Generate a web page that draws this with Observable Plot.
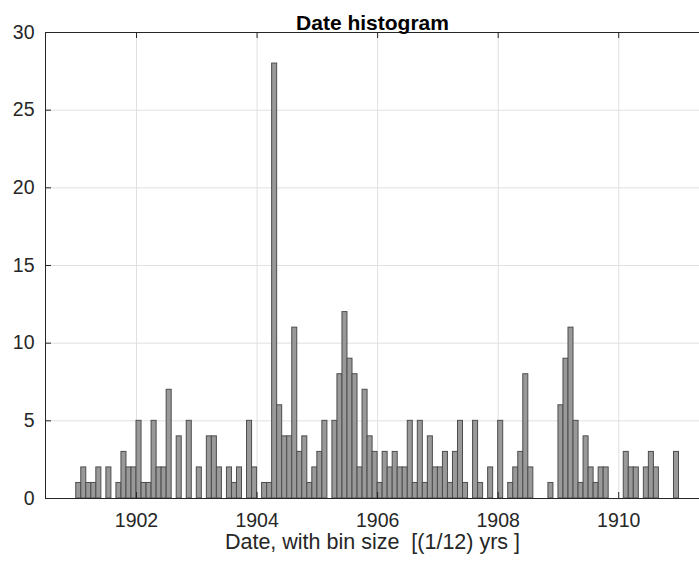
<!DOCTYPE html>
<html>
<head>
<meta charset="utf-8">
<script src="https://cdn.jsdelivr.net/npm/d3@7"></script>
<script src="https://cdn.jsdelivr.net/npm/@observablehq/plot@0.6"></script>
<style>
  html, body { margin: 0; padding: 0; background: #fff; }
  svg text { white-space: pre; }
</style>
</head>
<body>
<div id="chart"></div>
<script>
// Monthly counts (Jan..Dec) for each year, bin width 1/12 yr
const years = [1901, 1902, 1903, 1904, 1905, 1906, 1907, 1908, 1909, 1910];
const counts1901 = [1, 2, 1, 1, 2, 0, 2, 0, 1, 3, 2, 2];
const counts1902 = [5, 1, 1, 5, 2, 2, 7, 0, 4, 0, 5, 0];
const counts1903 = [2, 0, 4, 4, 2, 0, 2, 1, 2, 0, 5, 2];
const counts1904 = [0, 1, 1, 28, 6, 4, 4, 11, 3, 4, 1, 2];
const counts1905 = [3, 5, 0, 5, 8, 12, 9, 8, 2, 7, 4, 3];
const counts1906 = [1, 3, 2, 3, 2, 2, 5, 1, 5, 1, 4, 2];
const counts1907 = [2, 3, 1, 3, 5, 1, 0, 5, 1, 0, 2, 0];
const counts1908 = [5, 0, 1, 2, 3, 8, 2, 0, 0, 0, 1, 0];
const counts1909 = [6, 9, 11, 5, 1, 4, 2, 1, 2, 2, 0, 0];
const counts1910 = [0, 3, 2, 2, 0, 2, 3, 2, 0, 0, 0, 3];
const monthlyCounts = [counts1901, counts1902, counts1903, counts1904, counts1905,
                       counts1906, counts1907, counts1908, counts1909, counts1910];

const xTicks = [1902, 1904, 1906, 1908, 1910];
const yTicks = [0, 5, 10, 15, 20, 25, 30];
const xDomain = [1900.49, 1911.34];
const yDomain = [0, 30];

const titleText = "Date histogram";
const xLabelText = "Date, with bin size  [(1/12) yrs ]";

// one rectangle per monthly bin
const bins = [];
years.forEach((yr, i) => {
  monthlyCounts[i].forEach((c, m) => {
    bins.push({x1: yr + m / 12, x2: yr + (m + 1) / 12, count: c});
  });
});

const width = 699, height = 562;
const marginLeft = 45, marginRight = 0, marginTop = 32, marginBottom = 64;
const plotW = width - marginLeft - marginRight;
const plotH = height - marginTop - marginBottom;
const axisColor = "#262626";
const tickLen = 6;

const chart = Plot.plot({
  width, height, marginLeft, marginRight, marginTop, marginBottom,
  style: {fontFamily: "'Liberation Sans', Arial, Helvetica, sans-serif", background: "#fff", color: axisColor},
  x: {domain: xDomain, label: null},
  y: {domain: yDomain, label: null},
  marks: [
    Plot.gridX(xTicks, {stroke: "#e0e0e0", strokeOpacity: 1}),
    Plot.gridY(yTicks, {stroke: "#e0e0e0", strokeOpacity: 1}),
    Plot.rectY(bins, {x1: "x1", x2: "x2", y: "count", fill: "#999999", stroke: "#4d4d4d", strokeWidth: 1}),
    // box lines (right side runs past the page edge)
    Plot.ruleX([xDomain[0]], {stroke: axisColor}),
    Plot.ruleY([yDomain[0], yDomain[1]], {stroke: axisColor}),
    // inward tick marks
    Plot.tickX(xTicks, {x: d => d, insetTop: plotH - tickLen, stroke: axisColor}),
    Plot.tickX(xTicks, {x: d => d, insetBottom: plotH - tickLen, stroke: axisColor}),
    Plot.tickY(yTicks, {y: d => d, insetRight: plotW - tickLen, stroke: axisColor}),
    Plot.axisX(xTicks, {tickSize: 0, tickPadding: 15, fontSize: 19.5, fill: axisColor, tickFormat: d => String(d), label: null}),
    Plot.axisY(yTicks, {tickSize: 0, tickPadding: 11, fontSize: 19.5, fill: axisColor, label: null}),
    Plot.text([titleText], {frameAnchor: "top", dy: -17, fontSize: 21, fontWeight: "bold", fill: "#000"}),
    Plot.text([xLabelText], {frameAnchor: "bottom", dy: 50, fontSize: 21.5, fill: axisColor})
  ]
});

document.getElementById("chart").appendChild(chart);
</script>
</body>
</html>
